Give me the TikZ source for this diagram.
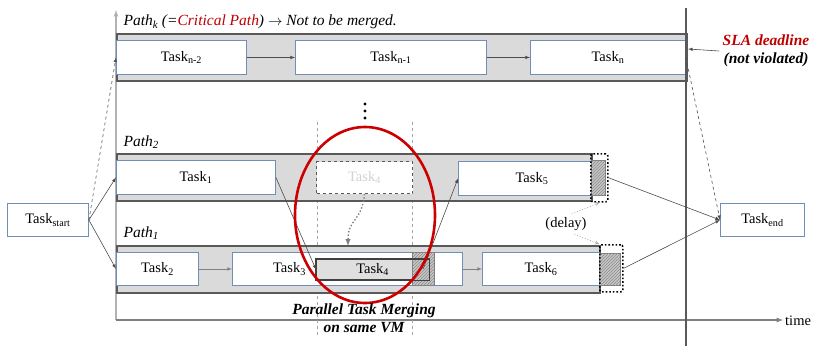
\documentclass[tikz,border=0pt]{standalone}
\usepackage{fontspec}
\setmainfont{Liberation Serif}
\usetikzlibrary{patterns}

\definecolor{taskblue}{HTML}{6F8FB8}
\definecolor{bandgray}{HTML}{DADADA}
\definecolor{edgegray}{HTML}{595959}
\definecolor{slared}{HTML}{C00000}

\begin{document}
\begin{tikzpicture}[x=1pt, y=-1pt, font=\fontsize{14.5}{17}\selectfont]
    % Define styles for bands, tasks and delay marks
    \tikzstyle{band} = [rectangle, anchor=north west, draw=edgegray, fill=bandgray, line width=1.6pt, minimum height=47pt, inner sep=0pt]
    \tikzstyle{task} = [rectangle, anchor=north west, draw=taskblue, fill=white, line width=0.9pt, minimum height=34pt, inner sep=0pt, text centered]
    \tikzstyle{hatch} = [rectangle, anchor=north west, draw=gray, fill=gray!45, inner sep=0pt, postaction={pattern=north east lines, pattern color=black!45}]
    \tikzstyle{delaybox} = [rectangle, anchor=north west, draw=black, dotted, line width=1.6pt, rounded corners=2pt, inner sep=0pt]
    \tikzstyle{conn} = [black!70, line width=0.6pt]
    \tikzstyle{guide} = [gray!70, dashed, line width=0.5pt]
    \tikzstyle{note} = [font=\fontsize{15.5}{18}\selectfont\itshape]
    \tikzstyle{boldnote} = [font=\fontsize{15.5}{18}\selectfont\bfseries\itshape, align=center]

    \useasboundingbox (0,0) rectangle (822,346);

    % Axes
    \coordinate (orig) at (116,320);
    \coordinate (ytop) at (116,10);
    \coordinate (xend) at (783,320);
    \draw[gray!60, line width=1.2pt, -latex] (orig) -- (ytop);
    \draw[gray, line width=1.2pt, -latex] (orig) -- (xend);
    \node[anchor=west, inner sep=1pt] (timelbl) at (784,321) {time};

    % Merging window
    \draw[guide] (317,122) -- (317,335);
    \draw[guide] (412,122) -- (412,335);

    % Draw the bands
    \node[band, minimum width=570pt] (bandk) at (116,33) {};
    \node[band, minimum width=475pt] (band2) at (116,153) {};
    \node[band, minimum width=483pt] (band1) at (116,245) {};

    % Path labels
    \node[note, anchor=west] (pathk) at (120,22)
        {Path\textsubscript{k} (=\textcolor{slared}{Critical Path}) $\rightarrow$ Not to be merged.};
    \node[note, anchor=west] (path2) at (120,142) {Path\textsubscript{2}};
    \node[note, anchor=west] (path1) at (120,233) {Path\textsubscript{1}};
    \foreach \y in {104,111,118} {
        \fill (365,\y) circle (1.7pt);
    }

    % Draw the tasks
    \node[task, minimum width=130pt] (tn2) at (116,40) {Task\textsubscript{n-2}};
    \node[task, minimum width=191pt] (tn1) at (295,40) {Task\textsubscript{n-1}};
    \node[task, minimum width=155pt] (tn) at (530,40) {Task\textsubscript{n}};

    \node[task, minimum width=159pt] (t1) at (116,160) {Task\textsubscript{1}};
    \node[task, draw=edgegray, dashed, line width=1pt, text=gray!35, minimum width=96pt, minimum height=32pt] (t4g) at (316,161) {Task\textsubscript{4}};
    \node[task, minimum width=147pt] (t5) at (458,161) {Task\textsubscript{5}};

    \node[task, minimum width=82pt, minimum height=33pt] (t2) at (116,252) {Task\textsubscript{2}};
    \node[task, minimum width=230pt, minimum height=33pt, label={[xshift=-58pt]center:Task\textsubscript{3}}] (t3) at (232,252) {};
    \node[task, draw=black!75, fill=gray!25, line width=1.3pt, minimum width=112pt, minimum height=20pt] (t4) at (316,259) {Task\textsubscript{4}};
    \node[task, minimum width=117pt, minimum height=33pt] (t6) at (482,252) {Task\textsubscript{6}};

    \node[task, minimum width=81pt, minimum height=33pt] (tstart) at (7,203) {Task\textsubscript{start}};
    \node[task, minimum width=84pt, minimum height=33pt] (tend) at (720,203) {Task\textsubscript{end}};

    % Delayed parts
    \node[hatch, minimum width=22pt, minimum height=33pt] (h4) at (412,252) {};
    \draw[black!75, line width=1.3pt] (t4.north west) rectangle (t4.south east);
    \node[hatch, minimum width=14pt, minimum height=35pt] (h5) at (591,160) {};
    \node[delaybox, minimum width=17pt, minimum height=48pt] (d5) at (590,153) {};
    \node[hatch, minimum width=21pt, minimum height=32pt] (h6) at (599,253) {};
    \node[delaybox, minimum width=23pt, minimum height=47pt] (d6) at (599,244) {};
    \node (delay) at (566,224) {(delay)};
    \draw[gray!70, dotted, line width=0.8pt, -stealth] (delay.60) -- (d5.south);
    \draw[gray!70, dotted, line width=0.8pt, -stealth] (delay.-50) -- (d6.north west);

    % SLA deadline
    \draw[edgegray, line width=2.5pt] (686,8) -- (686,346);
    \coordinate (dlk) at (688,49);
    \node[boldnote] (sla) at (766,51)
        {\textcolor{slared}{SLA deadline}\\(not violated)};
    \draw[conn, -latex] (sla.west) -- (dlk);

    % Draw arrows between the tasks
    \draw[conn, dashed, -latex] (tstart.east) -- (tn2.west);
    \draw[conn, -latex] (tstart.east) -- (t1.west);
    \draw[conn, -latex] (tstart.east) -- (t2.west);
    \draw[conn, -latex] (tn2) -- (tn1);
    \draw[conn, -latex] (tn1) -- (tn);
    \draw[conn, gray, -latex] (t2) -- (t3);
    \draw[conn, -latex] (t1.east) -- (t4.west);
    \draw[conn, -latex] (h4.center) -- (t5.west);
    \draw[conn, gray, -latex] (t3.east) -- (t6.west);
    \draw[conn, -latex] (d5.east) -- (tend.west);
    \draw[conn, -latex] (d6.east) -- (tend.west);
    \draw[conn, dashed, -latex] (tn.east) -- (tend.west);

    % Moving Task4 down to Path1
    \coordinate (mergein) at (348,246);
    \draw[gray, dotted, line width=1.4pt, -latex] (t4g.south) .. controls (362,222) and (348,218) .. (mergein);

    % Merging area
    \draw[red!80!black, line width=2.6pt] (365,215) ellipse (70pt and 88pt);
    \node[boldnote] (merging) at (364,318)
        {Parallel Task Merging\\on same VM};
\end{tikzpicture}
\end{document}
